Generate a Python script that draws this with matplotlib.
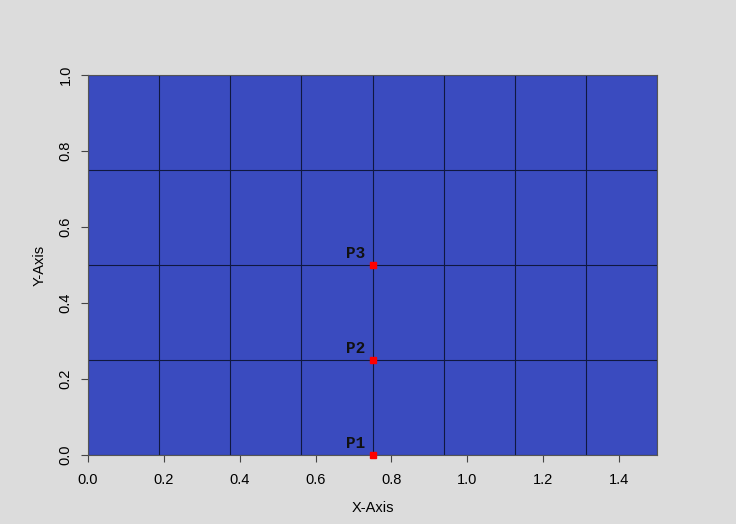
import matplotlib
matplotlib.use('Agg')
from matplotlib import pyplot as plt

# points
names = ['P1', 'P2', 'P3']
px = [0.75, 0.75, 0.75]
py = [0.0, 0.25, 0.5]

# cell boundaries
grid_x = [0.0, 0.1875, 0.375, 0.5625, 0.75, 0.9375, 1.125, 1.3125, 1.5]
grid_y = [0.0, 0.25, 0.5, 0.75, 1.0]

plt.rcParams['font.family'] = ['Liberation Sans', 'DejaVu Sans']

fig = plt.figure(figsize=(7.36, 5.24), dpi=100, facecolor='#dcdcdc')
ax = fig.add_axes([0.1196, 0.1317, 0.7731, 0.7252])
ax.set_facecolor('#3a4bbf')

ax.vlines(grid_x, 0, 1, colors='#101840', linewidth=0.8, zorder=1)
ax.hlines(grid_y, 0, 1.5, colors='#101840', linewidth=0.8, zorder=1)

ax.plot(px, py, 's', color='red', markersize=5, clip_on=False, zorder=3)
for n, x, y in zip(names, px, py):
    ax.annotate(n, (x, y), xytext=(-5, 3), textcoords='offset points',
                ha='right', va='bottom', fontsize=11.5, fontweight='bold',
                fontfamily=['Liberation Mono', 'DejaVu Sans Mono'],
                color='#111111', zorder=4)

ax.set_xlim(0, 1.5)
ax.set_ylim(0, 1.0)
ax.set_xticks([0.0, 0.2, 0.4, 0.6, 0.8, 1.0, 1.2, 1.4])
ax.set_yticks([0.0, 0.2, 0.4, 0.6, 0.8, 1.0])
ax.set_xticklabels(['0.0', '0.2', '0.4', '0.6', '0.8', '1.0', '1.2', '1.4'])
ax.set_yticklabels(['0.0', '0.2', '0.4', '0.6', '0.8', '1.0'], rotation=90, va='center')
ax.tick_params(axis='x', length=5, width=0.8, color='#444444', labelsize=10.5, pad=8)
ax.tick_params(axis='y', length=5, width=0.8, color='#444444', labelsize=10.5, pad=6)
ax.set_xlabel('X-Axis', fontsize=10.5, labelpad=10)
ax.set_ylabel('Y-Axis', fontsize=10.5, labelpad=9)
for s in ax.spines.values():
    s.set_color('#555555')
    s.set_linewidth(0.8)

fig.savefig('out.png', facecolor=fig.get_facecolor())
